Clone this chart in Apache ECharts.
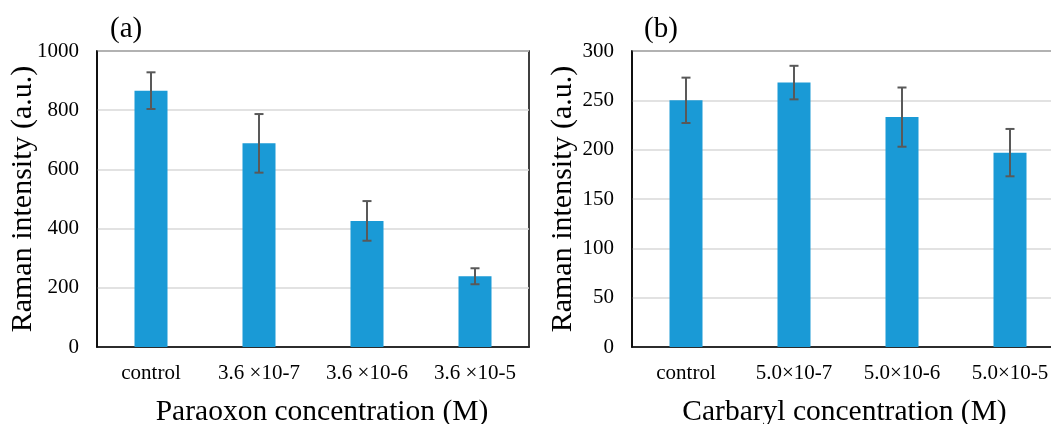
<!DOCTYPE html>
<html>
<head>
<meta charset="utf-8">
<script src="https://cdn.jsdelivr.net/npm/echarts@6/dist/echarts.min.js"></script>
<style>
  html, body { margin: 0; padding: 0; background: #fff; }
  #chart { width: 1051px; height: 424px; }
</style>
</head>
<body>
<div id="chart"></div>
<script>
// (a) Paraoxon
var paraoxonCats = ['control', '3.6 \u00d710-7', '3.6 \u00d710-6', '3.6 \u00d710-5'];
var paraoxonMean = [866, 688, 426, 239];
var paraoxonErr = [62, 99, 67, 27];

// (b) Carbaryl
var carbarylCats = ['control', '5.0\u00d710-7', '5.0\u00d710-6', '5.0\u00d710-5'];
var carbarylMean = [250, 268, 233, 197];
var carbarylErr = [23, 17, 30, 24];

var font = 'Liberation Serif, Times New Roman, serif';
var barColor = '#1a9ad6';

function errData(mean, err) {
  var out = [];
  for (var i = 0; i < mean.length; i++) {
    out.push([i, mean[i] - err[i], mean[i] + err[i]]);
  }
  return out;
}

function renderErr(params, api) {
  var lo = api.coord([api.value(0), api.value(1)]);
  var hi = api.coord([api.value(0), api.value(2)]);
  var w = 4.5;
  var style = { stroke: '#595959', lineWidth: 2 };
  return {
    type: 'group',
    children: [
      { type: 'line', shape: { x1: lo[0], y1: lo[1], x2: hi[0], y2: hi[1] }, style: style },
      { type: 'line', shape: { x1: hi[0] - w, y1: hi[1], x2: hi[0] + w, y2: hi[1] }, style: style },
      { type: 'line', shape: { x1: lo[0] - w, y1: lo[1], x2: lo[0] + w, y2: lo[1] }, style: style }
    ]
  };
}

function xAx(idx, cats, name, pad) {
  return {
    type: 'category', gridIndex: idx, data: cats,
    name: name, nameLocation: 'middle', nameGap: 50, nameMoveOverlap: false,
    nameTextStyle: { fontFamily: font, fontSize: 29.5, color: '#000', padding: pad },
    axisLine: { lineStyle: { color: '#000', width: 1.5 } },
    axisTick: { show: false },
    axisLabel: { fontFamily: font, fontSize: 21, color: '#000', margin: 16, interval: 0 }
  };
}

function yAx(idx, max, interval, gap) {
  return {
    type: 'value', gridIndex: idx, min: 0, max: max, interval: interval,
    name: 'Raman intensity (a.u.)', nameLocation: 'middle', nameGap: gap, nameMoveOverlap: false,
    nameTextStyle: { fontFamily: font, fontSize: 30, color: '#000' },
    axisLine: { show: true, lineStyle: { color: '#000', width: 1.5 } },
    axisTick: { show: false },
    axisLabel: { fontFamily: font, fontSize: 21, color: '#000', margin: 18,
      formatter: function (v) { return String(v); } },
    splitLine: { lineStyle: { color: '#d9d9d9', width: 1.5 } }
  };
}

var myChart = echarts.init(document.getElementById('chart'));
var option = {
  animation: false,
  title: [
    { text: '(a)', left: 110, top: 15, padding: 0,
      textStyle: { fontFamily: font, fontSize: 29, fontWeight: 'normal', color: '#000' } },
    { text: '(b)', left: 644, top: 15, padding: 0,
      textStyle: { fontFamily: font, fontSize: 29, fontWeight: 'normal', color: '#000' } }
  ],
  grid: [
    { left: 97, top: 51, width: 432, height: 296, show: true, borderColor: '#000', borderWidth: 1.5,
      outerBoundsMode: 'none', containLabel: false },
    { left: 632, top: 51, width: 432, height: 296, show: true, borderColor: '#000', borderWidth: 1.5,
      outerBoundsMode: 'none', containLabel: false }
  ],
  xAxis: [
    xAx(0, paraoxonCats, 'Paraoxon concentration (M)', [0, 0, 0, 18]),
    xAx(1, carbarylCats, 'Carbaryl concentration (M)', [0, 7, 0, 0])
  ],
  yAxis: [
    yAx(0, 1000, 200, 59),
    yAx(1, 300, 50, 54)
  ],
  series: [
    { type: 'bar', xAxisIndex: 0, yAxisIndex: 0, data: paraoxonMean, barWidth: 33,
      itemStyle: { color: barColor } },
    { type: 'custom', xAxisIndex: 0, yAxisIndex: 0, data: errData(paraoxonMean, paraoxonErr),
      renderItem: renderErr, z: 10 },
    { type: 'bar', xAxisIndex: 1, yAxisIndex: 1, data: carbarylMean, barWidth: 33,
      itemStyle: { color: barColor } },
    { type: 'custom', xAxisIndex: 1, yAxisIndex: 1, data: errData(carbarylMean, carbarylErr),
      renderItem: renderErr, z: 10 }
  ]
};
myChart.setOption(option);
</script>
</body>
</html>
